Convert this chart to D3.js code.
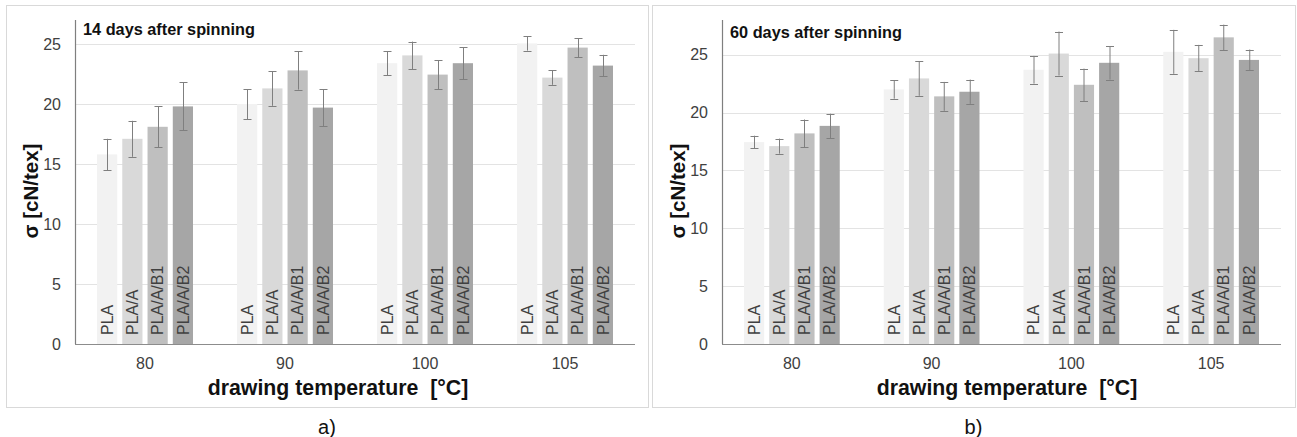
<!DOCTYPE html>
<html>
<head>
<meta charset="utf-8">
<script src="https://cdn.jsdelivr.net/npm/d3@7"></script>
<style>
  html, body { margin: 0; padding: 0; background: #fff; }
  svg { display: block; font-family: "Liberation Sans", Arial, sans-serif; }
</style>
</head>
<body>
<svg id="chart" width="1297" height="437"></svg>
<script>
// drawing temperatures on the x axis
var categories = ['80', '90', '100', '105'];
var series = ['PLA', 'PLA/A', 'PLA/A/B1', 'PLA/A/B2'];
var yTicks = [0, 5, 10, 15, 20, 25];

// tenacity, rows follow categories, columns follow series
var values14 = [
  [15.8, 17.1, 18.1, 19.8],
  [20.0, 21.3, 22.8, 19.7],
  [23.4, 24.05, 22.45, 23.4],
  [25.05, 22.2, 24.7, 23.2]
];
var errors14 = [
  [1.3, 1.5, 1.7, 2.0],
  [1.25, 1.45, 1.6, 1.55],
  [1.0, 1.15, 1.2, 1.35],
  [0.6, 0.6, 0.8, 0.9]
];
var values60 = [
  [17.45, 17.1, 18.2, 18.85],
  [22.0, 22.95, 21.4, 21.8],
  [23.7, 25.1, 22.4, 24.3],
  [25.25, 24.7, 26.5, 24.55]
];
var errors60 = [
  [0.55, 0.65, 1.2, 1.05],
  [0.8, 1.5, 1.25, 1.05],
  [1.2, 1.9, 1.4, 1.45],
  [1.9, 1.15, 1.1, 0.9]
];

var colors = ['#f2f2f2', '#d9d9d9', '#bfbfbf', '#a6a6a6'];
var textColor = '#404040';

var svg = d3.select('#chart');

function drawPanel(opt) {
  var g = svg.append('g');

  // panel frame
  g.append('rect')
    .attr('x', opt.frame[0] + 0.5).attr('y', opt.frame[1] + 0.5)
    .attr('width', opt.frame[2]).attr('height', opt.frame[3])
    .attr('fill', 'none').attr('stroke', '#d9d9d9');

  var x0 = d3.scaleBand().domain(categories).range([opt.left, opt.right]).padding(0);
  var x1 = d3.scaleBand().domain(series).range([22, x0.bandwidth() - 22]).paddingInner(0.2);
  var y = d3.scaleLinear().domain([0, opt.yMax]).range([opt.bottom, opt.top]);

  // gridlines
  g.selectAll('.grid').data(yTicks.filter(function (d) { return d > 0; })).enter()
    .append('line')
    .attr('x1', opt.left).attr('x2', opt.right)
    .attr('y1', function (d) { return Math.round(y(d)) + 0.5; })
    .attr('y2', function (d) { return Math.round(y(d)) + 0.5; })
    .attr('stroke', '#e3e3e3');

  // y tick labels
  g.selectAll('.ytick').data(yTicks).enter()
    .append('text')
    .attr('x', opt.left - 14)
    .attr('y', function (d) { return y(d); })
    .attr('dy', '0.35em')
    .attr('text-anchor', 'end')
    .attr('font-size', 16)
    .attr('fill', textColor)
    .text(function (d) { return d; });

  var groups = g.selectAll('.cat').data(categories).enter()
    .append('g')
    .attr('transform', function (d) { return 'translate(' + x0(d) + ',0)'; });

  groups.selectAll('rect').data(function (d, i) {
    return series.map(function (s, j) {
      return { s: s, j: j, v: opt.values[i][j], e: opt.errors[i][j] };
    });
  }).enter().append('rect')
    .attr('x', function (d) { return x1(d.s); })
    .attr('y', function (d) { return y(d.v); })
    .attr('width', x1.bandwidth())
    .attr('height', function (d) { return y(0) - y(d.v); })
    .attr('fill', function (d) { return colors[d.j]; });

  // series names written inside the bars
  groups.selectAll('.lbl').data(function (d, i) {
    return series.map(function (s, j) { return { s: s, j: j }; });
  }).enter().append('text')
    .attr('transform', function (d) {
      return 'translate(' + (x1(d.s) + x1.bandwidth() / 2) + ',' + (y(0) - 9) + ') rotate(-90)';
    })
    .attr('dy', '0.36em')
    .attr('font-size', 16)
    .attr('fill', textColor)
    .text(function (d) { return d.s; });

  // error bars
  var err = groups.selectAll('.err').data(function (d, i) {
    return series.map(function (s, j) {
      return { s: s, v: opt.values[i][j], e: opt.errors[i][j] };
    });
  }).enter().append('g')
    .attr('stroke', '#7f7f7f').attr('stroke-width', 1);

  err.append('line')
    .attr('x1', function (d) { return Math.round(x1(d.s) + x1.bandwidth() / 2) + 0.5; })
    .attr('x2', function (d) { return Math.round(x1(d.s) + x1.bandwidth() / 2) + 0.5; })
    .attr('y1', function (d) { return y(d.v + d.e); })
    .attr('y2', function (d) { return y(d.v - d.e); });
  [1, -1].forEach(function (sign) {
    err.append('line')
      .attr('x1', function (d) { return Math.round(x1(d.s) + x1.bandwidth() / 2) - 3.5; })
      .attr('x2', function (d) { return Math.round(x1(d.s) + x1.bandwidth() / 2) + 4.5; })
      .attr('y1', function (d) { return Math.round(y(d.v + sign * d.e)) + 0.5; })
      .attr('y2', function (d) { return Math.round(y(d.v + sign * d.e)) + 0.5; });
  });

  // axis lines
  g.append('line')
    .attr('x1', opt.left + 0.5).attr('x2', opt.left + 0.5)
    .attr('y1', opt.top).attr('y2', opt.bottom)
    .attr('stroke', '#7f7f7f').attr('stroke-width', 1.2);
  g.append('line')
    .attr('x1', opt.left).attr('x2', opt.right)
    .attr('y1', opt.bottom + 0.5).attr('y2', opt.bottom + 0.5)
    .attr('stroke', '#8c8c8c').attr('stroke-width', 1.2);

  // category labels
  g.selectAll('.xtick').data(categories).enter()
    .append('text')
    .attr('x', function (d) { return x0(d) + x0.bandwidth() / 2; })
    .attr('y', opt.bottom + 25)
    .attr('text-anchor', 'middle')
    .attr('font-size', 16)
    .attr('fill', textColor)
    .text(function (d) { return d; });

  g.append('text')
    .attr('x', opt.left + 8).attr('y', opt.titleY)
    .attr('font-size', 16.3).attr('font-weight', 'bold')
    .attr('fill', '#111')
    .text(opt.title);

  g.append('text')
    .attr('transform', 'translate(' + opt.yTitleX + ',191) rotate(-90)')
    .attr('text-anchor', 'middle')
    .attr('dy', '0.35em')
    .attr('font-size', 20.5).attr('font-weight', 'bold')
    .attr('fill', '#111')
    .text('σ [cN/tex]');

  g.append('text')
    .attr('x', opt.xTitleX).attr('y', 395)
    .attr('text-anchor', 'middle')
    .attr('font-size', 21.3).attr('font-weight', 'bold')
    .attr('fill', '#111')
    .style('white-space', 'pre')
    .text('drawing temperature  [°C]');

  g.append('text')
    .attr('x', opt.frame[0] + opt.frame[2] / 2).attr('y', 434)
    .attr('text-anchor', 'middle')
    .attr('font-size', 20)
    .attr('fill', '#111')
    .text(opt.tag);
}

drawPanel({
  frame: [6, 5, 642, 402],
  left: 75, right: 635, top: 20, bottom: 344, yMax: 27,
  values: values14, errors: errors14,
  title: '14 days after spinning', titleY: 35,
  yTitleX: 31, xTitleX: 338, tag: 'a)'
});

drawPanel({
  frame: [652, 5, 643, 402],
  left: 722, right: 1281, top: 20, bottom: 344, yMax: 28,
  values: values60, errors: errors60,
  title: '60 days after spinning', titleY: 38,
  yTitleX: 678, xTitleX: 1007, tag: 'b)'
});
</script>
</body>
</html>
